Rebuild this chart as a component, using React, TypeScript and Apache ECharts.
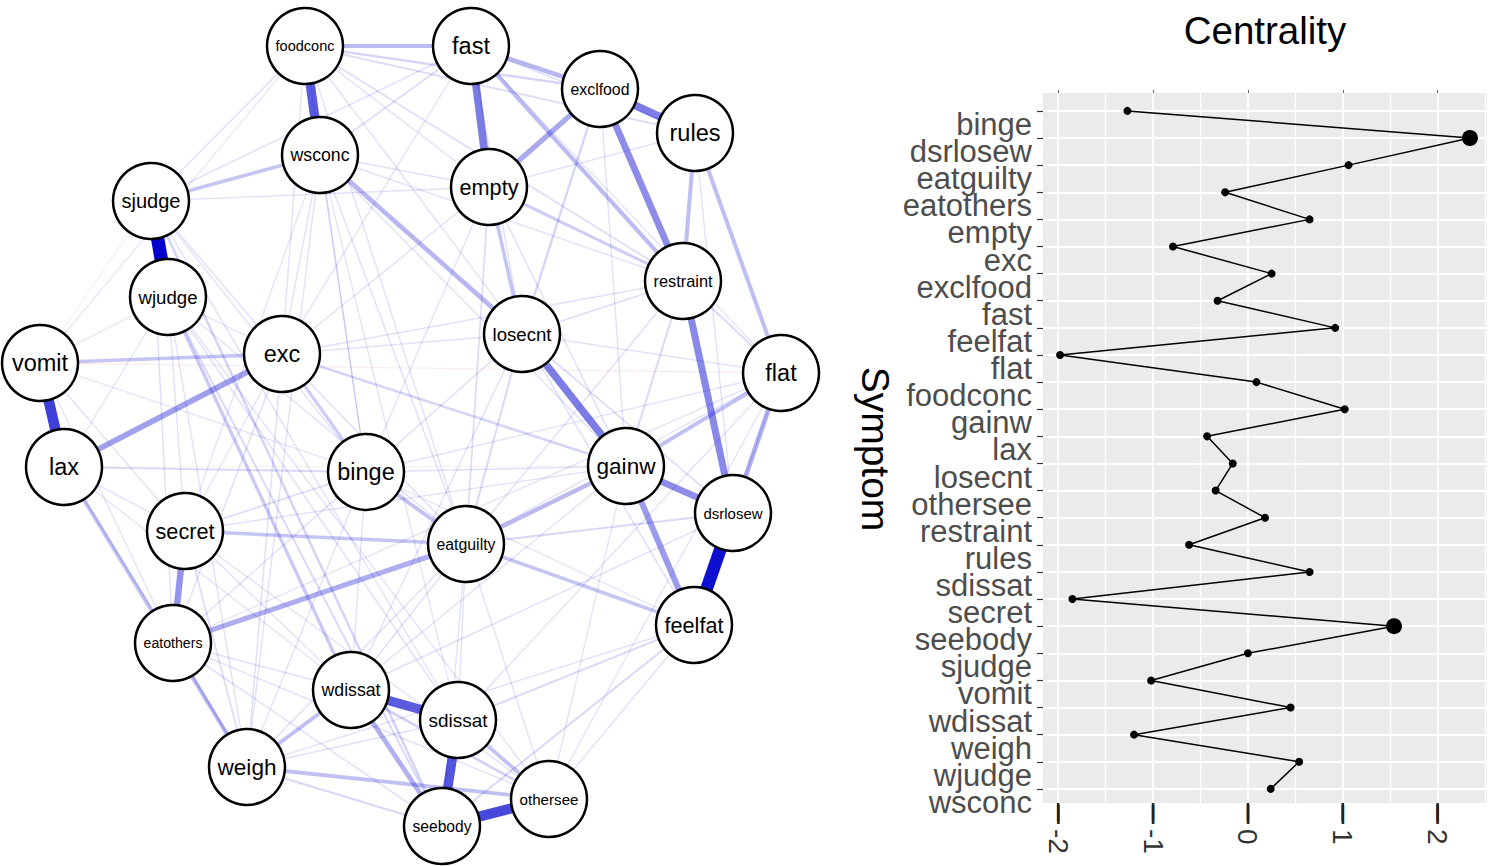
import React, { useEffect, useRef } from "react";
import * as echarts from "echarts";

// ---------- Network (left) ----------
const nodeNames = [
  "foodconc", "fast", "exclfood", "rules", "wsconc", "empty", "sjudge", "restraint",
  "wjudge", "losecnt", "exc", "vomit", "flat", "lax", "binge", "gainw", "dsrlosew",
  "secret", "eatguilty", "feelfat", "eatothers", "wdissat", "sdissat", "weigh",
  "othersee", "seebody",
];
// layout coordinates of the network (spring layout result)
const nodeX = [305, 471, 600, 695, 320, 489, 151, 683, 168, 522, 282, 40, 781, 64, 366, 626, 733, 185, 466, 694, 173, 351, 458, 247, 549, 442];
const nodeY = [46, 46, 89, 133, 155, 187, 201, 281, 297, 334, 354, 363, 373, 467, 472, 466, 513, 531, 544, 625, 643, 690, 720, 767, 799, 826];

// [from, to, strength]
const positiveEdges: [string, string, number][] = [
  ["sjudge", "wjudge", 1.0],
  ["dsrlosew", "feelfat", 0.95],
  ["vomit", "lax", 0.78],
  ["seebody", "othersee", 0.75],
  ["sdissat", "seebody", 0.7],
  ["foodconc", "wsconc", 0.68],
  ["wdissat", "sdissat", 0.68],
  ["fast", "empty", 0.55],
  ["exclfood", "rules", 0.55],
  ["losecnt", "gainw", 0.55],
  ["restraint", "dsrlosew", 0.5],
  ["exclfood", "restraint", 0.48],
  ["gainw", "dsrlosew", 0.48],
  ["secret", "eatothers", 0.45],
  ["gainw", "feelfat", 0.42],
  ["lax", "exc", 0.4],
  ["exclfood", "empty", 0.36],
  ["eatothers", "eatguilty", 0.34],
  ["flat", "dsrlosew", 0.32],
  ["wdissat", "seebody", 0.32],
  ["wsconc", "losecnt", 0.3],
  ["fast", "exclfood", 0.3],
  ["eatguilty", "gainw", 0.28],
  ["fast", "restraint", 0.27],
  ["foodconc", "fast", 0.27],
  ["rules", "restraint", 0.26],
  ["rules", "flat", 0.26],
  ["flat", "gainw", 0.25],
  ["lax", "weigh", 0.25],
  ["weigh", "wdissat", 0.25],
  ["weigh", "othersee", 0.25],
  ["binge", "eatguilty", 0.24],
  ["sdissat", "othersee", 0.24],
  ["empty", "losecnt", 0.22],
  ["eatguilty", "feelfat", 0.22],
  ["secret", "eatguilty", 0.22],
  ["vomit", "exc", 0.22],
  ["sjudge", "wsconc", 0.22],
  ["wjudge", "wdissat", 0.2],
  ["empty", "restraint", 0.18],
  ["exc", "binge", 0.18],
  ["wdissat", "othersee", 0.15],
  ["exc", "gainw", 0.14],
  ["sjudge", "seebody", 0.14],
  ["foodconc", "exclfood", 0.13],
  ["exclfood", "losecnt", 0.13],
  ["weigh", "seebody", 0.12],
  ["eatothers", "weigh", 0.14],
  ["lax", "binge", 0.1],
  ["eatguilty", "losecnt", 0.1],
  ["eatguilty", "dsrlosew", 0.1],
  ["restraint", "flat", 0.1],
  ["gainw", "restraint", 0.1],
  ["feelfat", "sdissat", 0.1],
  ["feelfat", "seebody", 0.1],
  ["wjudge", "seebody", 0.1],
  ["binge", "secret", 0.08],
  ["foodconc", "rules", 0.08],
  ["foodconc", "restraint", 0.08],
  ["fast", "wsconc", 0.08],
  ["eatguilty", "empty", 0.08],
  ["secret", "weigh", 0.08],
  ["dsrlosew", "losecnt", 0.08],
  ["restraint", "losecnt", 0.08],
  ["foodconc", "sjudge", 0.06],
  ["foodconc", "empty", 0.06],
  ["fast", "losecnt", 0.06],
  ["fast", "rules", 0.06],
  ["wsconc", "eatguilty", 0.06],
  ["sjudge", "exc", 0.06],
  ["sjudge", "eatothers", 0.06],
  ["wjudge", "sdissat", 0.06],
  ["exc", "weigh", 0.06],
  ["exc", "eatothers", 0.06],
  ["exc", "eatguilty", 0.06],
  ["exc", "restraint", 0.06],
  ["lax", "eatothers", 0.06],
  ["binge", "gainw", 0.06],
  ["binge", "losecnt", 0.06],
  ["eatothers", "wdissat", 0.06],
  ["eatothers", "seebody", 0.06],
  ["eatguilty", "restraint", 0.06],
  ["eatguilty", "wdissat", 0.06],
  ["gainw", "empty", 0.06],
  ["dsrlosew", "wdissat", 0.06],
  ["feelfat", "flat", 0.06],
  ["feelfat", "losecnt", 0.06],
  ["empty", "wsconc", 0.06],
  ["empty", "rules", 0.06],
  ["weigh", "sdissat", 0.06],
  ["foodconc", "losecnt", 0.05],
  ["foodconc", "exc", 0.05],
  ["foodconc", "binge", 0.05],
  ["foodconc", "eatguilty", 0.05],
  ["fast", "sjudge", 0.05],
  ["fast", "exc", 0.05],
  ["wsconc", "exc", 0.05],
  ["wsconc", "binge", 0.05],
  ["wsconc", "weigh", 0.05],
  ["wsconc", "gainw", 0.05],
  ["sjudge", "binge", 0.05],
  ["sjudge", "sdissat", 0.05],
  ["wjudge", "secret", 0.05],
  ["wjudge", "eatguilty", 0.05],
  ["wjudge", "othersee", 0.05],
  ["exc", "losecnt", 0.05],
  ["exc", "empty", 0.05],
  ["vomit", "secret", 0.05],
  ["lax", "secret", 0.05],
  ["binge", "eatothers", 0.05],
  ["binge", "weigh", 0.05],
  ["binge", "wdissat", 0.05],
  ["binge", "empty", 0.05],
  ["binge", "flat", 0.05],
  ["secret", "othersee", 0.05],
  ["secret", "wdissat", 0.05],
  ["secret", "gainw", 0.05],
  ["eatothers", "othersee", 0.05],
  ["eatguilty", "weigh", 0.05],
  ["eatguilty", "seebody", 0.05],
  ["eatguilty", "sdissat", 0.05],
  ["eatguilty", "othersee", 0.05],
  ["eatguilty", "flat", 0.05],
  ["gainw", "wdissat", 0.05],
  ["gainw", "exclfood", 0.05],
  ["dsrlosew", "rules", 0.05],
  ["feelfat", "weigh", 0.05],
  ["feelfat", "othersee", 0.05],
  ["restraint", "wsconc", 0.05],
  ["empty", "sjudge", 0.05],
  ["losecnt", "flat", 0.05],
  ["losecnt", "wdissat", 0.05],
  ["weigh", "wjudge", 0.05],
  ["sdissat", "flat", 0.05],
  ["foodconc", "vomit", 0.03],
  ["fast", "flat", 0.04],
  ["wsconc", "secret", 0.04],
  ["wsconc", "sdissat", 0.04],
  ["wjudge", "lax", 0.04],
  ["wjudge", "exc", 0.04],
  ["exc", "secret", 0.04],
  ["vomit", "wjudge", 0.04],
  ["vomit", "binge", 0.04],
  ["vomit", "eatothers", 0.04],
  ["lax", "wdissat", 0.04],
  ["binge", "feelfat", 0.04],
  ["eatothers", "flat", 0.04],
  ["gainw", "othersee", 0.04],
  ["flat", "othersee", 0.04],
];
const negativeEdges: [string, string, number][] = [
  ["vomit", "flat", 0.04],
  ["vomit", "sjudge", 0.03],
  ["lax", "gainw", 0.02],
];

// ---------- Centrality (right) ----------
const symptoms = [
  "binge", "dsrlosew", "eatguilty", "eatothers", "empty", "exc", "exclfood", "fast",
  "feelfat", "flat", "foodconc", "gainw", "lax", "losecnt", "othersee", "restraint",
  "rules", "sdissat", "secret", "seebody", "sjudge", "vomit", "wdissat", "weigh",
  "wjudge", "wsconc",
];
const centrality = [
  -1.27, 2.34, 1.06, -0.24, 0.65, -0.79, 0.25, -0.32, 0.92, -1.98, 0.09, 1.02, -0.43,
  -0.16, -0.34, 0.18, -0.62, 0.65, -1.85, 1.54, 0.0, -1.02, 0.45, -1.2, 0.54, 0.24,
];
const xTicks = [-2, -1, 0, 1, 2];
const titleText = "Centrality";
const yTitle = "Symptom";

const FONT = "'Liberation Sans', Arial, Helvetica, sans-serif";

function measure(text: string): number {
  const c = document.createElement("canvas");
  const ctx = c.getContext("2d");
  if (!ctx) return text.length * 55;
  ctx.font = "100px 'Liberation Sans', Arial, sans-serif";
  return ctx.measureText(text).width;
}

export default function App() {
  const ref = useRef<HTMLDivElement>(null);
  useEffect(() => {
    if (!ref.current) return;
    const chart = echarts.init(ref.current, null, { renderer: "svg" });

    const minX = Math.min(...nodeX);
    const maxX = Math.max(...nodeX);
    const minY = Math.min(...nodeY);
    const maxY = Math.max(...nodeY);

    const nodes = nodeNames.map((n, i) => ({
      name: n,
      x: nodeX[i],
      y: nodeY[i],
      label: { fontSize: Math.min(23.5, (59 * 100) / measure(n)) },
    }));

    const allEdges = [
      ...positiveEdges.map((e) => ({ e, pos: true })),
      ...negativeEdges.map((e) => ({ e, pos: false })),
    ].sort((a, b) => a.e[2] - b.e[2]);

    const links = allEdges.map(({ e, pos }) => {
      const w = e[2];
      const alpha = 0.1 + 0.9 * Math.pow(w, 1.3);
      return {
        source: e[0],
        target: e[1],
        lineStyle: {
          width: 0.8 + 12.5 * w,
          color: pos ? `rgba(0,0,205,${alpha.toFixed(3)})` : `rgba(215,60,60,${(alpha * 0.8).toFixed(3)})`,
          opacity: 1,
        },
      };
    });

    // panel geometry
    const gridLeft = 1043;
    const gridWidth = 444;
    const gridTop = 93;
    const gridHeight = 710;
    const xMin = -2.16;
    const xMax = 2.52;
    const yMin = -0.66;
    const yMax = 25.52;
    const step = gridHeight / (yMax - yMin);
    const tick0 = gridTop + (0 - yMin) * step;
    const idx = symptoms.map((_, i) => i);

    const textGraphics: any[] = [
      {
        id: "title",
        type: "text",
        x: gridLeft + gridWidth / 2,
        y: 30,
        style: {
          text: titleText,
          fontSize: 38.5,
          fontFamily: FONT,
          fill: "#000",
          align: "center",
          verticalAlign: "middle",
        },
      },
      {
        id: "ytitle",
        type: "text",
        x: 875,
        y: 449,
        rotation: -Math.PI / 2,
        style: {
          text: yTitle,
          fontSize: 39,
          fontFamily: FONT,
          fill: "#000",
          align: "center",
          verticalAlign: "middle",
        },
      },
    ];

    const option: any = {
      animation: false,
      backgroundColor: "#ffffff",
      textStyle: { fontFamily: FONT },
      grid: [
        {
          left: gridLeft,
          top: gridTop,
          width: gridWidth,
          height: gridHeight,
          show: true,
          backgroundColor: "#EBEBEB",
          borderWidth: 0,
        },
        {
          left: gridLeft,
          top: tick0,
          width: gridWidth,
          height: step * symptoms.length,
          show: false,
        },
        {
          left: gridLeft,
          top: gridTop + gridHeight,
          width: gridWidth,
          height: 18,
          show: false,
        },
      ],
      xAxis: [
        {
          gridIndex: 0,
          type: "value",
          position: "bottom",
          min: xMin,
          max: xMax,
          minInterval: 1,
          maxInterval: 1,
          axisLine: { show: false, onZero: false },
          axisTick: { show: false, customValues: xTicks },
          axisLabel: { show: false },
          splitLine: { show: true, lineStyle: { color: "#ffffff", width: 1.8 } },
          minorTick: { show: false, splitNumber: 2 },
          minorSplitLine: { show: true, lineStyle: { color: "#ffffff", width: 1.3 } },
        },
        {
          gridIndex: 0,
          type: "value",
          position: "top",
          min: xMin,
          max: xMax,
          minInterval: 1,
          maxInterval: 1,
          axisLine: { show: true, onZero: false, lineStyle: { color: "rgba(0,0,0,0)", width: 0 } },
          axisTick: { show: true, customValues: xTicks, length: 3, lineStyle: { color: "#666", width: 1 } },
          axisLabel: { show: false },
          splitLine: { show: false },
        },
        {
          gridIndex: 1,
          type: "value",
          show: false,
          axisLine: { onZero: false },
        },
        {
          gridIndex: 2,
          type: "value",
          position: "bottom",
          min: xMin,
          max: xMax,
          minInterval: 1,
          maxInterval: 1,
          axisLine: { show: false, onZero: false },
          axisTick: { show: false, customValues: xTicks },
          splitLine: { show: false },
          axisLabel: {
            show: true,
            customValues: xTicks,
            rotate: -90,
            fontSize: 28,
            color: "#333",
            margin: 8,
            fontFamily: FONT,
          },
        },
        {
          // tick marks under the panel, drawn as bar glyphs
          gridIndex: 2,
          type: "value",
          position: "top",
          min: xMin,
          max: xMax,
          minInterval: 1,
          maxInterval: 1,
          axisLine: { show: false, onZero: false },
          axisTick: { show: false, customValues: xTicks },
          splitLine: { show: false },
          axisLabel: {
            show: true,
            inside: true,
            customValues: xTicks,
            formatter: () => "|",
            fontSize: 20,
            lineHeight: 20,
            fontWeight: "bold",
            color: "#222",
            margin: 0,
            verticalAlign: "top",
            fontFamily: FONT,
          },
        },
      ],
      yAxis: [
        {
          gridIndex: 0,
          type: "value",
          position: "left",
          inverse: true,
          min: yMin,
          max: yMax,
          minInterval: 1,
          maxInterval: 1,
          axisLine: { show: true, onZero: false, lineStyle: { color: "rgba(0,0,0,0)", width: 0 } },
          axisTick: { show: true, customValues: idx, length: 6, lineStyle: { color: "#333", width: 1.2 } },
          axisLabel: { show: false },
          splitLine: { show: true, lineStyle: { color: "#ffffff", width: 1.8 } },
        },
        {
          gridIndex: 1,
          type: "category",
          position: "left",
          inverse: true,
          data: symptoms,
          boundaryGap: true,
          axisLine: { show: false, onZero: false },
          axisTick: { show: false },
          splitLine: { show: false },
          axisLabel: {
            show: true,
            interval: 0,
            fontSize: 31,
            color: "#4D4D4D",
            margin: 11,
            fontFamily: FONT,
          },
        },
        {
          gridIndex: 2,
          type: "value",
          min: -1,
          max: 1,
          show: false,
          axisLine: { onZero: false },
          splitLine: { show: false },
        },
      ],
      graphic: textGraphics,
      series: [
        {
          type: "graph",
          layout: "none",
          left: minX,
          top: minY,
          width: maxX - minX,
          height: maxY - minY,
          roam: false,
          silent: true,
          symbol: "circle",
          symbolSize: 76,
          itemStyle: { color: "#ffffff", borderColor: "#000000", borderWidth: 2.5 },
          label: { show: true, position: "inside", color: "#000", fontFamily: FONT },
          lineStyle: { opacity: 1, curveness: 0 },
          emphasis: { disabled: true },
          data: nodes,
          links,
          z: 2,
        },
        {
          type: "line",
          xAxisIndex: 0,
          yAxisIndex: 0,
          data: centrality.map((v, i) => [v, i]),
          symbol: "circle",
          symbolSize: (val: number[]) => (val[0] > 1.5 ? 16 : 8),
          itemStyle: { color: "#000" },
          lineStyle: { color: "#000", width: 1.5 },
          silent: true,
          z: 3,
        },
      ],
    };

    chart.setOption(option);

    // bottom axis tick marks, positioned through the axis scale
    const tickLines: any[] = [];
    xTicks.forEach((v, i) => {
      const p = chart.convertToPixel({ gridIndex: 0 }, [v, yMax]) as number[] | undefined;
      if (p && isFinite(p[0]) && isFinite(p[1])) {
        tickLines.push({
          id: "xtick" + i,
          type: "line",
          z: 100,
          silent: true,
          shape: { x1: p[0], y1: p[1], x2: p[0], y2: p[1] + 18 },
          style: { stroke: "#222", lineWidth: 2.5 },
        });
      }
    });
    chart.setOption({ graphic: [...textGraphics, ...tickLines] });

    return () => chart.dispose();
  }, []);

  return (
    <div
      ref={ref}
      style={{ position: "fixed", left: 0, top: 0, width: 1500, height: 866, background: "#fff" }}
    />
  );
}
